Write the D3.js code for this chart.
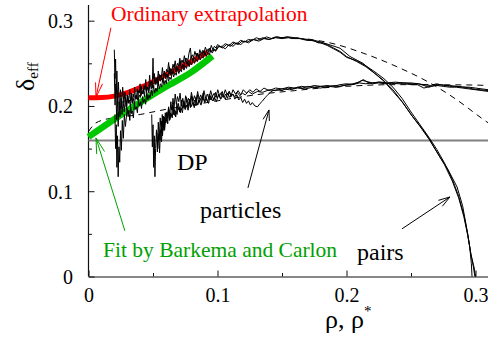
<!DOCTYPE html>
<html>
<head>
<meta charset="utf-8">
<script src="https://cdn.jsdelivr.net/npm/d3@7"></script>
<style>
  html, body { margin: 0; padding: 0; background: #fff; }
  svg { display: block; }
  text { font-family: "Liberation Serif", "Times New Roman", serif; }
</style>
</head>
<body>
<svg id="chart" width="488" height="345"></svg>
<script>
// ---- data -------------------------------------------------------------
const xTicks = [0, 0.1, 0.2, 0.3];
const xMinor = [0.05, 0.15, 0.25];
const yTicks = [0, 0.1, 0.2, 0.3];
const yMinor = [0.05, 0.15, 0.25];
const dpValue = 0.1595;

// ordinary extrapolation (red) and Barkema-Carlon fit (green)
const ordinaryFit = [[0,0.2095],[0.01,0.2098],[0.02,0.2115],[0.03,0.2155],[0.04,0.2215],[0.05,0.2285],[0.06,0.2365],[0.07,0.2445],[0.08,0.2525],[0.0926,0.2634]];
const barkemaFit = [[0,0.1637],[0.02,0.1845],[0.04,0.2040],[0.06,0.2225],[0.08,0.2400],[0.096,0.2585]];

// series expansions (dashed)
const seriesPairs = [[0.17,0.2785],[0.1872,0.274],[0.2128,0.262],[0.2391,0.246],[0.2647,0.227],[0.2857,0.207],[0.3035,0.187],[0.31,0.180]];
const seriesParticles = [[0,0.170],[0.004,0.178],[0.01,0.183],[0.02,0.186],[0.03,0.188],[0.04,0.190],[0.05,0.193],[0.06,0.196],[0.08,0.201],[0.10,0.206],[0.12,0.211],[0.14,0.215],[0.16,0.218],[0.18,0.221],[0.20,0.223],[0.22,0.2245],[0.24,0.225],[0.26,0.225],[0.28,0.2248],[0.30,0.2245],[0.31,0.224]];

// simulation runs, pairs density
const pairsRunA = [[0.0200,0.266],[0.0205,0.232],[0.0210,0.255],[0.0215,0.214],[0.0220,0.241],[0.0226,0.203],[0.0232,0.228],[0.0240,0.196],[0.0248,0.219],[0.0256,0.201],[0.0265,0.222],[0.0274,0.204],[0.0283,0.216],[0.0292,0.199],[0.0300,0.213],[0.0308,0.204],[0.0314,0.209],[0.0320,0.219],[0.0326,0.206],[0.0333,0.211],[0.0340,0.203],[0.0346,0.214],[0.0352,0.210],[0.0358,0.222],[0.0364,0.208],[0.0372,0.213],[0.0380,0.207],[0.0388,0.218],[0.0394,0.215],[0.0400,0.226],[0.0407,0.212],[0.0414,0.218],[0.0422,0.214],[0.0430,0.224],[0.0437,0.219],[0.0444,0.231],[0.0450,0.216],[0.0458,0.222],[0.0466,0.219],[0.0474,0.236],[0.0480,0.225],[0.0488,0.229],[0.0494,0.221],[0.0500,0.256],[0.0504,0.232],[0.0511,0.238],[0.0518,0.226],[0.0526,0.233],[0.0534,0.229],[0.0541,0.241],[0.0549,0.231],[0.0557,0.236],[0.0565,0.233],[0.0573,0.245],[0.0580,0.235],[0.0589,0.239],[0.0597,0.234],[0.0605,0.243],[0.0613,0.240],[0.0621,0.251],[0.0629,0.238],[0.0638,0.244],[0.0646,0.241],[0.0655,0.249],[0.0663,0.245],[0.0672,0.253],[0.0680,0.244],[0.0690,0.250],[0.0699,0.247],[0.0708,0.256],[0.0716,0.249],[0.0725,0.254],[0.0734,0.250],[0.0743,0.259],[0.0752,0.252],[0.0761,0.256],[0.0770,0.253],[0.0779,0.262],[0.0790,0.268],[0.0797,0.256],[0.0806,0.260],[0.0815,0.257],[0.0825,0.264],[0.0834,0.259],[0.0843,0.262],[0.0853,0.258],[0.0863,0.266],[0.0873,0.261],[0.0884,0.265],[0.0895,0.262],[0.0906,0.269],[0.0917,0.264],[0.0928,0.267],[0.0940,0.264],[0.0952,0.271],[0.0964,0.266],[0.0976,0.270],[0.0988,0.268],[0.1000,0.272],[0.1030,0.269],[0.1060,0.273],[0.1090,0.271],[0.1120,0.275],[0.1150,0.273],[0.1180,0.277],[0.1210,0.275],[0.1240,0.278],[0.1270,0.277],[0.1300,0.280],[0.1340,0.278],[0.1380,0.281],[0.1420,0.279],[0.1460,0.281],[0.1500,0.280],[0.1540,0.281],[0.1580,0.279],[0.1620,0.280],[0.1660,0.278],[0.1700,0.277],[0.1740,0.277],[0.1780,0.274],[0.1820,0.274],[0.1872,0.2716],[0.1950,0.2677],[0.2027,0.258],[0.2128,0.250],[0.2205,0.240],[0.2283,0.2306],[0.2360,0.219],[0.2438,0.2036],[0.2515,0.187],[0.2593,0.172],[0.2647,0.160],[0.2725,0.140],[0.2787,0.1255],[0.2857,0.105],[0.2900,0.083],[0.2930,0.058],[0.2955,0.035],[0.2968,0.015],[0.2973,0.000]];
const pairsRunB = [[0.0205,0.190],[0.0210,0.150],[0.0215,0.178],[0.0220,0.128],[0.0225,0.165],[0.0230,0.117],[0.0236,0.152],[0.0242,0.134],[0.0248,0.171],[0.0255,0.148],[0.0262,0.183],[0.0270,0.162],[0.0278,0.190],[0.0286,0.176],[0.0293,0.186],[0.0300,0.197],[0.0307,0.188],[0.0313,0.195],[0.0320,0.183],[0.0327,0.199],[0.0334,0.191],[0.0341,0.194],[0.0348,0.186],[0.0356,0.203],[0.0363,0.196],[0.0371,0.199],[0.0379,0.192],[0.0387,0.207],[0.0395,0.200],[0.0403,0.205],[0.0411,0.197],[0.0419,0.211],[0.0427,0.204],[0.0435,0.208],[0.0443,0.202],[0.0452,0.216],[0.0460,0.207],[0.0469,0.213],[0.0477,0.209],[0.0486,0.219],[0.0495,0.212],[0.0504,0.224],[0.0513,0.215],[0.0522,0.221],[0.0531,0.217],[0.0540,0.228],[0.0549,0.220],[0.0558,0.226],[0.0567,0.222],[0.0576,0.233],[0.0585,0.225],[0.0594,0.230],[0.0603,0.226],[0.0612,0.237],[0.0621,0.229],[0.0630,0.234],[0.0640,0.231],[0.0650,0.241],[0.0660,0.234],[0.0670,0.239],[0.0680,0.236],[0.0690,0.245],[0.0700,0.238],[0.0710,0.243],[0.0720,0.240],[0.0730,0.249],[0.0740,0.242],[0.0750,0.247],[0.0760,0.244],[0.0770,0.252],[0.0780,0.246],[0.0790,0.251],[0.0800,0.248],[0.0811,0.256],[0.0822,0.250],[0.0833,0.255],[0.0844,0.252],[0.0855,0.259],[0.0866,0.254],[0.0877,0.258],[0.0888,0.256],[0.0900,0.263],[0.0912,0.258],[0.0924,0.262],[0.0936,0.260],[0.0948,0.266],[0.0960,0.262],[0.0972,0.266],[0.0984,0.264],[0.0996,0.269],[0.1030,0.270],[0.1060,0.267],[0.1090,0.272],[0.1120,0.270],[0.1150,0.274],[0.1180,0.272],[0.1210,0.276],[0.1240,0.274],[0.1280,0.278],[0.1320,0.276],[0.1360,0.279],[0.1400,0.278],[0.1450,0.280],[0.1500,0.279],[0.1550,0.280],[0.1600,0.279],[0.1650,0.279],[0.1700,0.277],[0.1750,0.277],[0.1800,0.275],[0.1850,0.272],[0.1900,0.268],[0.1950,0.264],[0.2000,0.258],[0.2080,0.252],[0.2150,0.246],[0.2220,0.238],[0.2290,0.229],[0.2360,0.217],[0.2430,0.205],[0.2500,0.190],[0.2570,0.176],[0.2640,0.161],[0.2700,0.146],[0.2760,0.131],[0.2820,0.112],[0.2870,0.092],[0.2910,0.070],[0.2940,0.048],[0.2965,0.026],[0.2990,0.010],[0.3000,0.000]];
const pairsRunC = [[0.0200,0.238],[0.0206,0.201],[0.0212,0.226],[0.0218,0.184],[0.0224,0.212],[0.0230,0.176],[0.0237,0.205],[0.0244,0.187],[0.0252,0.209],[0.0260,0.190],[0.0268,0.206],[0.0277,0.193],[0.0286,0.210],[0.0295,0.196],[0.0305,0.212],[0.0312,0.203],[0.0318,0.207],[0.0325,0.199],[0.0333,0.215],[0.0340,0.204],[0.0348,0.209],[0.0356,0.201],[0.0363,0.212],[0.0371,0.208],[0.0379,0.220],[0.0386,0.207],[0.0394,0.213],[0.0402,0.210],[0.0410,0.223],[0.0418,0.214],[0.0426,0.219],[0.0434,0.211],[0.0442,0.225],[0.0450,0.218],[0.0459,0.222],[0.0468,0.215],[0.0477,0.228],[0.0486,0.220],[0.0495,0.225],[0.0504,0.221],[0.0513,0.234],[0.0522,0.225],[0.0531,0.230],[0.0540,0.224],[0.0549,0.237],[0.0558,0.229],[0.0567,0.233],[0.0577,0.228],[0.0587,0.241],[0.0597,0.232],[0.0607,0.237],[0.0617,0.233],[0.0627,0.246],[0.0637,0.236],[0.0647,0.241],[0.0657,0.238],[0.0667,0.249],[0.0677,0.240],[0.0687,0.245],[0.0697,0.242],[0.0708,0.252],[0.0719,0.244],[0.0730,0.249],[0.0741,0.246],[0.0752,0.256],[0.0763,0.249],[0.0774,0.253],[0.0785,0.250],[0.0796,0.259],[0.0807,0.253],[0.0818,0.257],[0.0830,0.254],[0.0842,0.262],[0.0854,0.256],[0.0866,0.261],[0.0878,0.258],[0.0890,0.265],[0.0902,0.260],[0.0914,0.264],[0.0926,0.262],[0.0938,0.268],[0.0950,0.263],[0.0970,0.267],[0.0990,0.265],[0.1010,0.270],[0.1040,0.268],[0.1070,0.272],[0.1100,0.270],[0.1130,0.274],[0.1160,0.272],[0.1190,0.276],[0.1230,0.275],[0.1270,0.278],[0.1310,0.277],[0.1350,0.280],[0.1400,0.278],[0.1450,0.281],[0.1500,0.280],[0.1550,0.281],[0.1600,0.280],[0.1650,0.279],[0.1700,0.278],[0.1750,0.276],[0.1800,0.274],[0.1850,0.271],[0.1900,0.267],[0.1950,0.263],[0.2000,0.257],[0.2080,0.253],[0.2150,0.247],[0.2220,0.240],[0.2290,0.232],[0.2360,0.222],[0.2430,0.209],[0.2500,0.193],[0.2570,0.178],[0.2640,0.163],[0.2700,0.149],[0.2760,0.133],[0.2820,0.114],[0.2870,0.094],[0.2910,0.072],[0.2940,0.050],[0.2962,0.028],[0.2985,0.010],[0.2995,0.000]];

// simulation runs, particle density
const particlesRunA = [[0.0490,0.190],[0.0495,0.152],[0.0500,0.178],[0.0505,0.128],[0.0510,0.165],[0.0515,0.117],[0.0520,0.150],[0.0527,0.172],[0.0534,0.146],[0.0541,0.181],[0.0548,0.160],[0.0556,0.186],[0.0564,0.168],[0.0572,0.190],[0.0580,0.174],[0.0590,0.187],[0.0600,0.180],[0.0607,0.193],[0.0614,0.186],[0.0621,0.197],[0.0628,0.183],[0.0636,0.192],[0.0644,0.188],[0.0652,0.201],[0.0660,0.190],[0.0668,0.196],[0.0676,0.187],[0.0685,0.203],[0.0694,0.195],[0.0703,0.199],[0.0712,0.192],[0.0721,0.207],[0.0730,0.197],[0.0740,0.203],[0.0750,0.196],[0.0760,0.210],[0.0770,0.199],[0.0780,0.205],[0.0790,0.198],[0.0800,0.212],[0.0811,0.202],[0.0822,0.207],[0.0833,0.200],[0.0844,0.213],[0.0855,0.204],[0.0866,0.209],[0.0877,0.203],[0.0888,0.215],[0.0900,0.205],[0.0912,0.210],[0.0924,0.204],[0.0936,0.214],[0.0948,0.207],[0.0960,0.212],[0.0972,0.206],[0.0985,0.216],[0.0998,0.209],[0.1011,0.213],[0.1024,0.208],[0.1037,0.217],[0.1050,0.210],[0.1064,0.214],[0.1078,0.209],[0.1092,0.217],[0.1106,0.211],[0.1120,0.214],[0.1135,0.208],[0.1150,0.213],[0.1165,0.207],[0.1180,0.210],[0.1195,0.204],[0.1210,0.208],[0.1225,0.203],[0.1240,0.206],[0.1255,0.201],[0.1270,0.204],[0.1290,0.200],[0.1310,0.199],[0.1330,0.203],[0.1350,0.206],[0.1370,0.210],[0.1390,0.213],[0.1410,0.216],[0.1430,0.218],[0.1460,0.219],[0.1500,0.218],[0.1540,0.221],[0.1580,0.220],[0.1620,0.222],[0.1660,0.221],[0.1700,0.223],[0.1750,0.222],[0.1800,0.223],[0.1850,0.222],[0.1900,0.224],[0.1950,0.223],[0.2000,0.225],[0.2050,0.226],[0.2100,0.228],[0.2130,0.231],[0.2160,0.228],[0.2200,0.226],[0.2250,0.227],[0.2300,0.226],[0.2350,0.227],[0.2400,0.226],[0.2450,0.226],[0.2500,0.225],[0.2550,0.225],[0.2600,0.221],[0.2650,0.223],[0.2700,0.224],[0.2750,0.223],[0.2800,0.222],[0.2850,0.222],[0.2900,0.221],[0.2950,0.220],[0.3000,0.219],[0.3050,0.218],[0.3100,0.217]];
const particlesRunB = [[0.0530,0.170],[0.0537,0.150],[0.0544,0.167],[0.0551,0.145],[0.0558,0.172],[0.0566,0.158],[0.0575,0.184],[0.0585,0.171],[0.0595,0.192],[0.0605,0.182],[0.0613,0.188],[0.0621,0.199],[0.0629,0.186],[0.0638,0.205],[0.0646,0.195],[0.0655,0.209],[0.0663,0.197],[0.0672,0.214],[0.0681,0.202],[0.0690,0.211],[0.0700,0.205],[0.0710,0.215],[0.0720,0.200],[0.0731,0.209],[0.0742,0.198],[0.0753,0.212],[0.0764,0.204],[0.0775,0.209],[0.0786,0.203],[0.0798,0.216],[0.0810,0.206],[0.0822,0.212],[0.0834,0.205],[0.0846,0.217],[0.0858,0.208],[0.0870,0.213],[0.0882,0.207],[0.0895,0.218],[0.0908,0.209],[0.0921,0.214],[0.0934,0.208],[0.0947,0.218],[0.0960,0.211],[0.0974,0.215],[0.0988,0.210],[0.1002,0.219],[0.1016,0.212],[0.1030,0.216],[0.1045,0.211],[0.1060,0.219],[0.1075,0.213],[0.1090,0.217],[0.1105,0.212],[0.1120,0.219],[0.1140,0.214],[0.1160,0.218],[0.1180,0.213],[0.1200,0.219],[0.1225,0.215],[0.1250,0.219],[0.1275,0.216],[0.1300,0.220],[0.1330,0.217],[0.1360,0.221],[0.1400,0.218],[0.1450,0.221],[0.1500,0.220],[0.1550,0.222],[0.1600,0.221],[0.1650,0.223],[0.1700,0.222],[0.1750,0.224],[0.1800,0.223],[0.1850,0.224],[0.1900,0.223],[0.1950,0.225],[0.2000,0.226],[0.2050,0.225],[0.2100,0.227],[0.2150,0.226],[0.2200,0.227],[0.2250,0.228],[0.2300,0.227],[0.2350,0.226],[0.2400,0.227],[0.2450,0.227],[0.2500,0.226],[0.2550,0.226],[0.2600,0.225],[0.2650,0.224],[0.2700,0.226],[0.2750,0.224],[0.2800,0.224],[0.2850,0.223],[0.2900,0.222],[0.2950,0.222],[0.3000,0.221],[0.3050,0.220],[0.3100,0.219]];
const particlesRunC = [[0.0560,0.160],[0.0567,0.182],[0.0574,0.165],[0.0582,0.188],[0.0590,0.172],[0.0598,0.184],[0.0606,0.191],[0.0614,0.179],[0.0622,0.196],[0.0631,0.184],[0.0640,0.190],[0.0649,0.186],[0.0658,0.199],[0.0667,0.189],[0.0677,0.194],[0.0687,0.190],[0.0697,0.203],[0.0707,0.193],[0.0717,0.198],[0.0728,0.192],[0.0739,0.206],[0.0750,0.196],[0.0761,0.201],[0.0772,0.195],[0.0784,0.208],[0.0796,0.199],[0.0808,0.204],[0.0820,0.198],[0.0833,0.210],[0.0846,0.201],[0.0859,0.206],[0.0872,0.201],[0.0886,0.211],[0.0900,0.204],[0.0915,0.208],[0.0930,0.203],[0.0945,0.212],[0.0960,0.206],[0.0976,0.210],[0.0992,0.205],[0.1008,0.214],[0.1025,0.208],[0.1042,0.212],[0.1060,0.208],[0.1078,0.215],[0.1096,0.210],[0.1115,0.214],[0.1134,0.211],[0.1153,0.216],[0.1173,0.212],[0.1193,0.215],[0.1215,0.213],[0.1240,0.217],[0.1270,0.214],[0.1310,0.217],[0.1350,0.216],[0.1400,0.219],[0.1450,0.218],[0.1500,0.220],[0.1560,0.219],[0.1620,0.221],[0.1680,0.220],[0.1740,0.222],[0.1800,0.221],[0.1860,0.223],[0.1920,0.222],[0.1980,0.224],[0.2040,0.225],[0.2080,0.227],[0.2120,0.230],[0.2150,0.229],[0.2200,0.227],[0.2260,0.228],[0.2320,0.227],[0.2380,0.228],[0.2440,0.227],[0.2500,0.227],[0.2560,0.226],[0.2600,0.224],[0.2640,0.222],[0.2680,0.224],[0.2740,0.225],[0.2800,0.223],[0.2860,0.223],[0.2920,0.222],[0.2980,0.220],[0.3040,0.219],[0.3100,0.218]];

// annotation arrows, in data coordinates: [from, to]
const arrowOrdinary = [[0.0174,0.2917],[0.0058,0.2101]];
const arrowFit = [[0.0282,0.0535],[0.0058,0.1625]];
const arrowParticles = [[0.1236,0.1039],[0.1399,0.1953]];
const arrowPairs = [[0.2430,0.0559],[0.2802,0.0933]];

// ---- layout -----------------------------------------------------------
const svg = d3.select("#chart");
const x = d3.scaleLinear().domain([0, 0.31]).range([88.5, 488.4]);
const y = d3.scaleLinear().domain([0, 0.3184]).range([276.5, 5]);

// axes with inward ticks
const gx = svg.append("g").attr("transform", `translate(0,${y(0)})`)
  .call(d3.axisBottom(x).tickValues(xTicks).tickSizeInner(-6).tickSizeOuter(0).tickPadding(11)
    .tickFormat(d => d === 0 ? "0" : d3.format(".1f")(d)));
gx.append("g").call(d3.axisBottom(x).tickValues(xMinor).tickSizeInner(-3.5).tickSizeOuter(0).tickFormat(""))
  .select(".domain").remove();

const gy = svg.append("g").attr("transform", `translate(${x(0)},0)`)
  .call(d3.axisLeft(y).tickValues(yTicks).tickSizeInner(-6).tickSizeOuter(0).tickPadding(15.5)
    .tickFormat(d => d === 0 ? "0" : d3.format(".1f")(d)));
gy.append("g").call(d3.axisLeft(y).tickValues(yMinor).tickSizeInner(-3.5).tickSizeOuter(0).tickFormat(""))
  .select(".domain").remove();

svg.selectAll(".tick text").attr("font-size", 20).attr("fill", "#000");
gy.selectAll(".tick text").attr("dy", "0.35em");
svg.selectAll(".domain").attr("stroke", "#111").attr("stroke-width", 1.2);
svg.selectAll(".tick line").attr("stroke", "#111").attr("stroke-width", 1);

// extend the y axis line to the top of the frame
gy.select(".domain").attr("d", `M0,${y(0)}V5`);

// DP reference level
svg.append("line")
  .attr("x1", x(0)).attr("x2", x(0.31))
  .attr("y1", y(dpValue)).attr("y2", y(dpValue))
  .attr("stroke", "#808080").attr("stroke-width", 1.8);

const line = d3.line().x(d => x(d[0])).y(d => y(d[1]));
const smooth = d3.line().x(d => x(d[0])).y(d => y(d[1])).curve(d3.curveMonotoneX);

// dashed series curves
[seriesParticles, seriesPairs].forEach(s => {
  svg.append("path").attr("d", smooth(s)).attr("fill", "none")
    .attr("stroke", "#000").attr("stroke-width", 1).attr("stroke-dasharray", "6,5");
});

// extrapolations
svg.append("path").attr("d", smooth(barkemaFit)).attr("fill", "none")
  .attr("stroke", "#00c800").attr("stroke-width", 6.5);
svg.append("path").attr("d", smooth(ordinaryFit)).attr("fill", "none")
  .attr("stroke", "#ff0000").attr("stroke-width", 5);

// simulation runs
[pairsRunA, pairsRunB, pairsRunC, particlesRunA, particlesRunB, particlesRunC].forEach(s => {
  svg.append("path").attr("d", line(s)).attr("fill", "none")
    .attr("stroke", "#000").attr("stroke-width", 1).attr("stroke-linejoin", "round");
});

// arrows with open heads
function arrow(seg, color, headLen, half) {
  const [x1, y1] = [x(seg[0][0]), y(seg[0][1])];
  const [x2, y2] = [x(seg[1][0]), y(seg[1][1])];
  const a = Math.atan2(y1 - y2, x1 - x2);
  const g = svg.append("g").attr("stroke", color).attr("stroke-width", 1).attr("fill", "none");
  g.append("line").attr("x1", x1).attr("y1", y1).attr("x2", x2).attr("y2", y2);
  const p1 = [x2 + headLen * Math.cos(a + half), y2 + headLen * Math.sin(a + half)];
  const p2 = [x2 + headLen * Math.cos(a - half), y2 + headLen * Math.sin(a - half)];
  g.append("path").attr("d", `M${p1}L${x2},${y2}L${p2}`);
}
arrow(arrowOrdinary, "#ff0000", 15, 0.24);
arrow(arrowFit, "#00a000", 16, 0.26);
arrow(arrowParticles, "#000", 11, 0.3);
arrow(arrowPairs, "#000", 12, 0.3);

// labels
function label(txt, px, py, size, color) {
  svg.append("text").attr("x", px).attr("y", py).attr("font-size", size)
    .attr("fill", color).text(txt);
}
label("Ordinary extrapolation", 111, 21, 21.5, "#ff0000");
label("Fit by Barkema and Carlon", 103, 257, 21.5, "#00a000");
label("DP", 177, 170, 24, "#000");
label("particles", 200, 218, 24, "#000");
label("pairs", 357, 260, 24, "#000");

// axis titles
const yt = svg.append("text").attr("transform", "translate(34,91) rotate(-90)").attr("font-size", 26);
yt.append("tspan").text("δ");
yt.append("tspan").attr("font-size", 15).attr("dy", 4).text("eff");

const xt = svg.append("text").attr("x", 325).attr("y", 328).attr("font-size", 26);
xt.append("tspan").text("ρ, ρ");
xt.append("tspan").attr("font-size", 15).attr("dy", -12).text("*");
</script>
</body>
</html>
